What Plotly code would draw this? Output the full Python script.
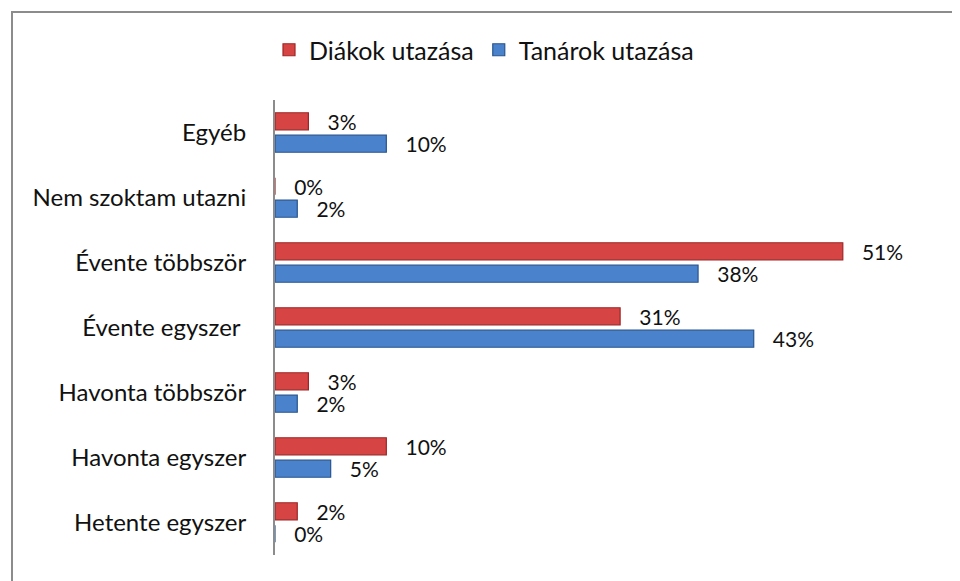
import plotly.graph_objects as go

categories = ["Egyéb", "Nem szoktam utazni", "Évente többször", "Évente egyszer ",
              "Havonta többször", "Havonta egyszer", "Hetente egyszer"]
diakok = [3, 0, 51, 31, 3, 10, 2]
tanarok = [10, 2, 38, 43, 2, 5, 0]
series_names = ["Diákok utazása", "Tanárok utazása"]

FONT = "Lato, 'Open Sans', sans-serif"
FS = 24
W, H = 960, 581
OFF = 8  # page body margin
L, R, T, B = 275 - OFF, 17 + OFF, 100 - OFF, 26 + OFF

fig = go.Figure()
fig.add_trace(go.Bar(
    y=categories, x=diakok, orientation="h", name=series_names[0],
    marker=dict(color="#D64444", line=dict(color="#9E2626", width=1.2)),
    text=[f"   {v}%" for v in diakok], textposition="outside", constraintext="none",
    textfont=dict(size=21, color="#111111", family=FONT), cliponaxis=False,
))
fig.add_trace(go.Bar(
    y=categories, x=tanarok, orientation="h", name=series_names[1],
    marker=dict(color="#4A82CC", line=dict(color="#28558F", width=1.2)),
    text=[f"   {v}%" for v in tanarok], textposition="outside", constraintext="none",
    textfont=dict(size=21, color="#111111", family=FONT), cliponaxis=False,
))

pw = W - L - R
ph = H - T - B
fig.add_shape(type="rect", xref="paper", yref="paper",
              x0=(12 - OFF - L) / pw, x1=(W + 20 - L) / pw,
              y0=(H - B - (H + 20)) / ph, y1=(H - B - (12 - OFF)) / ph,
              line=dict(color="#8C8C8C", width=2), fillcolor="rgba(0,0,0,0)", layer="below")

fig.update_layout(
    width=W, height=H,
    margin=dict(l=L, r=R, t=T, b=B, autoexpand=False),
    paper_bgcolor="white", plot_bgcolor="white",
    barmode="group", bargap=0.31, bargroupgap=0.24,
    font=dict(family=FONT, size=FS, color="#111111"),
    legend=dict(orientation="h", xref="container", yref="container",
                x=476 / W, y=1 - 42 / H, xanchor="center", yanchor="middle",
                font=dict(size=25), itemwidth=30, traceorder="normal"),
    xaxis=dict(range=[0, 60], visible=False, showgrid=False, zeroline=False, automargin=False),
    yaxis=dict(autorange="reversed", showline=True, linecolor="#8C8C8C", linewidth=2,
               showgrid=False, ticks="", ticklabelstandoff=22, automargin=False,
               tickfont=dict(size=FS, color="#111111")),
    showlegend=True,
)

fig.write_html("out.html")
